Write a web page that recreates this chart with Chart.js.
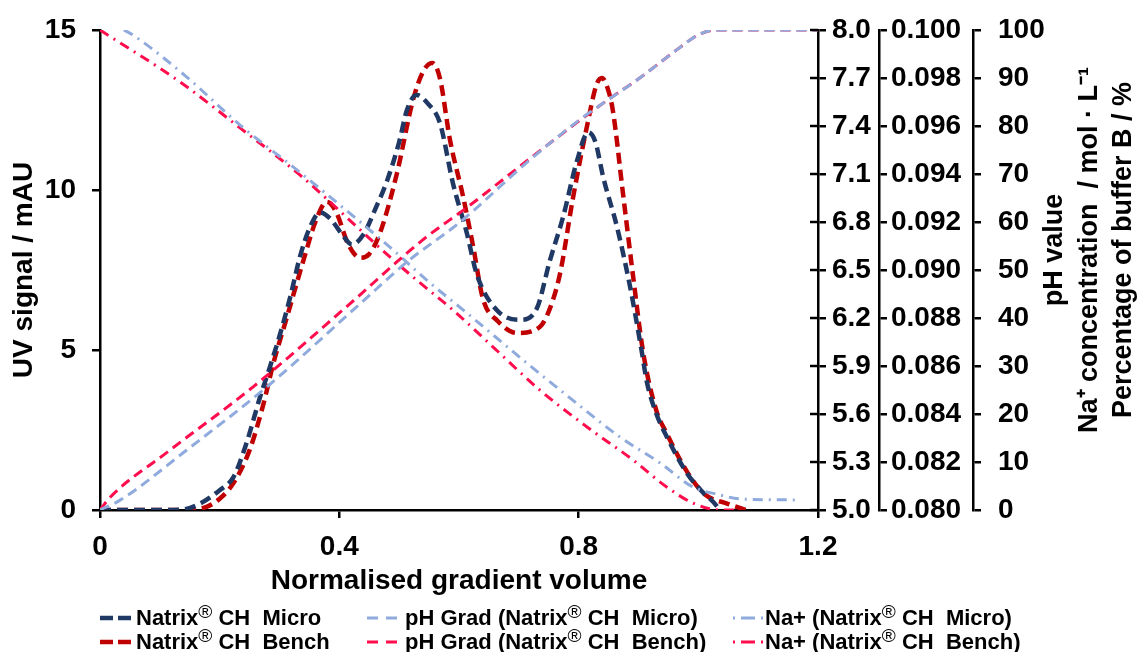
<!DOCTYPE html>
<html>
<head>
<meta charset="utf-8">
<script src="https://cdn.jsdelivr.net/npm/chart.js@4.4.1/dist/chart.umd.min.js"></script>
<style>
  body { margin: 0; background: #fff; }
  #wrap { position: relative; width: 1145px; height: 652px; }
  #legend { position: absolute; left: 0; top: 606px; width: 1145px; font: bold 22px "Liberation Sans", Arial, sans-serif; color: #000; }
  .item { position: absolute; display: flex; align-items: center; white-space: nowrap; height: 24px; }
  .item svg { margin-right: 2px; }
  sup { font-weight: normal; font-size: 19px; vertical-align: 7px; line-height: 0; }
</style>
</head>
<body>
<div id="wrap">
  <canvas id="grafico" width="1145" height="652"></canvas>
  <div id="legend"></div>
</div>
<script>
// UV signal (mAU) vs normalised gradient volume
const xMicro = [0, 0.05, 0.1, 0.14, 0.167, 0.2, 0.223, 0.245, 0.267, 0.284, 0.301, 0.318, 0.334, 0.35, 0.368, 0.385, 0.405, 0.421, 0.44, 0.46, 0.48, 0.5, 0.513, 0.529, 0.548, 0.568, 0.59, 0.613, 0.63, 0.663, 0.702, 0.73, 0.752, 0.774, 0.797, 0.816, 0.828, 0.841, 0.864, 0.886, 0.905, 0.914, 0.93, 0.947, 0.981, 1.005, 1.025, 1.036];
const uvMicro = [0, 0, 0, 0.02, 0.2, 0.62, 1.03, 2.1, 3.5, 4.47, 5.5, 6.66, 7.9, 8.8, 9.3, 9.1, 8.6, 8.3, 8.6, 9.4, 10.3, 11.5, 12.5, 12.97, 12.7, 12.1, 10.2, 8.66, 7.35, 6.25, 5.94, 6.3, 7.8, 9.16, 10.9, 11.8, 11.5, 10.4, 8.85, 6.97, 5.0, 4.0, 3.0, 2.3, 1.15, 0.6, 0.25, 0];

const xBench = [0, 0.1, 0.15, 0.178, 0.2, 0.223, 0.25, 0.273, 0.29, 0.312, 0.34, 0.36, 0.379, 0.395, 0.415, 0.435, 0.45, 0.468, 0.496, 0.523, 0.54, 0.555, 0.568, 0.585, 0.607, 0.624, 0.64, 0.665, 0.697, 0.735, 0.752, 0.769, 0.79, 0.814, 0.83, 0.839, 0.848, 0.857, 0.874, 0.891, 0.908, 0.93, 0.947, 0.981, 1.01, 1.048, 1.08];
const uvBench = [0, 0, 0, 0.1, 0.35, 0.84, 1.87, 3.3, 4.6, 6.0, 7.8, 9.0, 9.63, 9.3, 8.3, 7.88, 8.0, 8.66, 10.5, 12.8, 13.7, 13.97, 13.5, 11.56, 9.78, 8.2, 6.6, 5.9, 5.53, 5.72, 6.3, 7.4, 9.7, 12.0, 13.3, 13.5, 13.2, 12.5, 9.9, 7.3, 4.9, 3.1, 2.4, 1.2, 0.5, 0.2, 0];

// pH gradients
const xPhMicro = [0, 0.033, 0.145, 0.279, 0.435, 0.513, 0.602, 0.719, 0.802, 0.902, 0.969, 1.0, 1.03, 1.2];
const phMicro = [5.0, 5.06, 5.375, 5.77, 6.29, 6.55, 6.8, 7.19, 7.44, 7.7, 7.89, 7.97, 8.0, 8.0];
const xPhBench = [0, 0.017, 0.112, 0.256, 0.418, 0.54, 0.613, 0.73, 0.836, 0.902, 0.969, 1.0, 1.03, 1.2];
const phBench = [5.0, 5.08, 5.36, 5.77, 6.29, 6.69, 6.89, 7.23, 7.53, 7.7, 7.89, 7.97, 8.0, 8.0];

// Na+ concentration (mol/L)
const xNaMicro = [0.04, 0.055, 0.145, 0.234, 0.329, 0.435, 0.49, 0.546, 0.613, 0.713, 0.79, 0.869, 0.936, 0.991, 1.036, 1.07, 1.17];
const naMicro = [0.1, 0.09979, 0.09804, 0.09604, 0.09417, 0.092, 0.09083, 0.08958, 0.08821, 0.08613, 0.08458, 0.08304, 0.08196, 0.08096, 0.08063, 0.08046, 0.08042];
const xNaBench = [0, 0.134, 0.234, 0.334, 0.435, 0.49, 0.535, 0.59, 0.657, 0.735, 0.814, 0.891, 0.947, 0.991, 1.036, 1.07];
const naBench = [0.1, 0.09783, 0.09592, 0.09396, 0.09167, 0.09042, 0.08946, 0.08833, 0.08679, 0.085, 0.08346, 0.08208, 0.08096, 0.08029, 0.08, 0.08];

const legendLabels = ['Natrix<sup>®</sup> CH&nbsp; Micro', 'pH Grad (Natrix<sup>®</sup> CH&nbsp; Micro)', 'Na+ (Natrix<sup>®</sup> CH&nbsp; Micro)',
                      'Natrix<sup>®</sup> CH&nbsp; Bench', 'pH Grad (Natrix<sup>®</sup> CH&nbsp; Bench)', 'Na+ (Natrix<sup>®</sup> CH&nbsp; Bench)'];
const rightTitles = ['pH value', 'Na\u207A concentration  / mol \u00B7 L\u207B\u00B9', 'Percentage of buffer B / %'];

const NAVY = '#203864';
const DARKRED = '#C00000';
const LIGHTBLUE = '#8FAADC';
const PINK = '#FF0D4D';
const FONT = '"Liberation Sans", Arial, sans-serif';

const pts = (xs, ys) => xs.map((x, i) => ({ x: x, y: ys[i] }));

function line(label, xs, ys, axis, color, width, dash) {
  return {
    label: label,
    data: pts(xs, ys),
    yAxisID: axis,
    borderColor: color,
    backgroundColor: color,
    borderWidth: width,
    borderDash: dash,
    pointRadius: 0,
    fill: false,
    cubicInterpolationMode: 'monotone'
  };
}

const sideTitles = {
  id: 'sideTitles',
  afterDraw(chart) {
    const c = chart.ctx;
    c.save();
    c.fillStyle = '#000';
    c.font = 'bold 27px ' + FONT;
    c.textAlign = 'center';
    c.textBaseline = 'middle';
    const xs = [1055, 1090, 1124];
    rightTitles.forEach((t, i) => {
      c.save();
      c.translate(xs[i], 250);
      c.rotate(-Math.PI / 2);
      c.fillText(t, 0, 0);
      c.restore();
    });
    // pH axis ticks cross the axis line
    const s = chart.scales.yPH;
    c.strokeStyle = '#000';
    c.lineWidth = 2.5;
    s.ticks.forEach((t, i) => {
      const y = s.getPixelForTick(i);
      c.beginPath();
      c.moveTo(s.left - 8, y);
      c.lineTo(s.left, y);
      c.stroke();
    });
    c.restore();
  }
};

const tickFont = { family: FONT, size: 28, weight: 'bold' };
const axisGrid = { drawOnChartArea: false, color: '#000', lineWidth: 2.5, tickLength: 8 };
const axisBorder = { color: '#000', width: 2.5 };
const fixWidth = w => s => { s.width = w; s.paddingTop = 0; s.paddingBottom = 0; };

new Chart(document.getElementById('grafico'), {
  type: 'line',
  data: {
    datasets: [
      line(legendLabels[1], xPhMicro, phMicro, 'yPH', LIGHTBLUE, 3, [10, 6]),
      line(legendLabels[4], xPhBench, phBench, 'yPH', PINK, 3, [10, 6]),
      line(legendLabels[2], xNaMicro, naMicro, 'yNa', LIGHTBLUE, 3, [10, 6, 2, 6]),
      line(legendLabels[5], xNaBench, naBench, 'yNa', PINK, 3, [10, 6, 2, 6]),
      line(legendLabels[0], xMicro, uvMicro, 'y', NAVY, 4.5, [11, 6]),
      line(legendLabels[3], xBench, uvBench, 'y', DARKRED, 4.5, [11, 6])
    ]
  },
  options: {
    responsive: false,
    animation: false,
    layout: { padding: { top: 30, right: 100, bottom: 54, left: 0 } },
    plugins: { legend: { display: false }, tooltip: { enabled: false } },
    scales: {
      x: {
        type: 'linear',
        min: 0,
        max: 1.2,
        ticks: { stepSize: 0.4, color: '#000', font: tickFont, padding: 12,
                 callback: v => (Math.abs(v) < 1e-9 ? '0' : v.toFixed(1)) },
        grid: axisGrid,
        border: axisBorder,
        title: { display: true, text: 'Normalised gradient volume', color: '#000',
                 font: { family: FONT, size: 28, weight: 'bold' }, padding: { top: 8, bottom: 0 } },
        afterFit: s => { s.height = 88; }
      },
      y: {
        position: 'left',
        min: 0,
        max: 15,
        ticks: { stepSize: 5, color: '#000', font: tickFont, padding: 16 },
        grid: axisGrid,
        border: axisBorder,
        title: { display: true, text: 'UV signal / mAU', color: '#000',
                 font: { family: FONT, size: 28, weight: 'bold' }, padding: { top: 7, bottom: 0 } },
        afterFit: fixWidth(100)
      },
      yPH: {
        position: 'right',
        min: 5,
        max: 8,
        ticks: { stepSize: 0.3, color: '#000', font: tickFont, padding: 6, callback: v => v.toFixed(1) },
        grid: axisGrid,
        border: axisBorder,
        afterFit: fixWidth(61)
      },
      yNa: {
        position: 'right',
        min: 0.08,
        max: 0.1,
        ticks: { stepSize: 0.002, color: '#000', font: tickFont, padding: 4, callback: v => v.toFixed(3) },
        grid: axisGrid,
        border: axisBorder,
        afterFit: fixWidth(94)
      },
      yPct: {
        position: 'right',
        min: 0,
        max: 100,
        ticks: { stepSize: 10, color: '#000', font: tickFont, padding: 17 },
        grid: axisGrid,
        border: axisBorder,
        afterFit: fixWidth(72)
      }
    }
  },
  plugins: [sideTitles]
});

// legend laid out in two rows of three, as in the figure
const legendItems = [
  { col: 0, row: 0, color: NAVY, w: 4.5, dash: '13,5', len: 34 },
  { col: 1, row: 0, color: LIGHTBLUE, w: 3, dash: '11,8', len: 36 },
  { col: 2, row: 0, color: LIGHTBLUE, w: 3, dash: '2,6,14,6', len: 30 },
  { col: 0, row: 1, color: DARKRED, w: 4.5, dash: '13,5', len: 34 },
  { col: 1, row: 1, color: PINK, w: 3, dash: '11,8', len: 36 },
  { col: 2, row: 1, color: PINK, w: 3, dash: '2,6,14,6', len: 30 }
];
const colX = [100, 367, 733];
const order = [0, 1, 2, 3, 4, 5];
const legend = document.getElementById('legend');
legendItems.forEach((it, i) => {
  const d = document.createElement('div');
  d.className = 'item';
  d.style.left = colX[it.col] + 'px';
  d.style.top = (it.row * 24) + 'px';
  d.innerHTML = '<svg width="' + it.len + '" height="10"><line x1="0" y1="5" x2="' + it.len + '" y2="5" stroke="' + it.color +
    '" stroke-width="' + it.w + '" stroke-dasharray="' + it.dash + '"/></svg><span>' + legendLabels[order[i]] + '</span>';
  legend.appendChild(d);
});
</script>
</body>
</html>
